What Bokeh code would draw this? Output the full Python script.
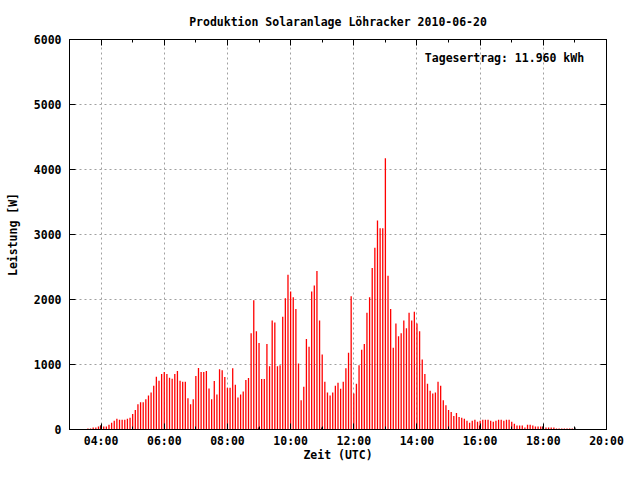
from bokeh.plotting import figure
from bokeh.models import FixedTicker, LinearAxis, Label, ColumnDataSource, Range1d
from bokeh.embed import file_html
from bokeh.resources import INLINE

# ---------------- data ----------------
title_text = "Produktion Solaranlage Löhracker 2010-06-20"
x_label = "Zeit (UTC)"
y_label = "Leistung [W]"
yield_text = "Tagesertrag: 11.960 kWh"

start_time = "03:35"   # first sample
step_minutes = 5       # sampling interval
power_w = [
    15, 15, 30, 30, 45,
    60, 45, 45, 75, 105, 135, 165, 150, 150, 150, 165, 180,
    240, 300, 390, 420, 420, 465, 525, 570, 675, 810, 750, 855,
    885, 855, 795, 780, 855, 900, 750, 735, 735, 480, 390, 465,
    825, 945, 885, 885, 900, 630, 465, 748, 539, 928, 913, 808,
    643, 643, 943, 688, 494, 539, 583, 763, 793, 1481, 1990, 1511,
    1332, 778, 778, 1317, 972, 1676, 1646, 972, 987, 1735, 2020, 2379,
    2124, 2035, 1855, 1017, 449, 658, 1391, 1272, 2124, 2214, 2439, 1676,
    1152, 733, 569, 524, 569, 673, 718, 628, 733, 943, 1182, 2050,
    554, 703, 987, 1227, 1317, 1795, 2035, 2484, 2798, 3217, 3097, 3097,
    4174, 2364, 1855, 1257, 1631, 1436, 1481, 1676, 1556, 1795, 1676, 1810,
    1631, 1511, 1077, 853, 703, 598, 554, 569, 733, 673, 449, 374,
    299, 269, 209, 254, 194, 180, 165, 135, 105, 135, 150, 120,
    135, 150, 150, 150, 135, 120, 135, 150, 150, 135, 150, 150,
    120, 90, 60, 60, 60, 30, 75, 75, 60, 45, 45, 45,
    45, 30, 30, 30, 30, 15, 15, 15, 15, 15, 15, 15,
]

marker_times = ["03:59", "08:59", "10:59", "15:59", "17:59", "19:00"]
marker_w = [60, 30, 30, 60, 45, 30]

x_ticks = [4, 6, 8, 10, 12, 14, 16, 18, 20]
x_tick_labels = ["04:00", "06:00", "08:00", "10:00", "12:00", "14:00", "16:00", "18:00", "20:00"]
x_minor = [3, 5, 7, 9, 11, 13, 15, 17, 19]
y_ticks = [0, 1000, 2000, 3000, 4000, 5000, 6000]
y_tick_labels = ["0", "1000", "2000", "3000", "4000", "5000", "6000"]

label_time = "14:15"
label_w = 5720


def to_hours(s):
    h, m = s.split(":")
    return int(h) + int(m) / 60.0


t0 = to_hours(start_time)
times = [t0 + i * step_minutes / 60.0 for i in range(len(power_w))]
src = ColumnDataSource(dict(x=times, y0=[0] * len(power_w), y=power_w))
msrc = ColumnDataSource(dict(x=[to_hours(t) for t in marker_times], y0=[0] * len(marker_w), y=marker_w))

FONT = "DejaVu Sans Mono"
FS = "11.5px"

p = figure(width=624, height=464, output_backend="svg", toolbar_location=None,
           x_range=Range1d(3, 20), y_range=Range1d(0, 6000),
           min_border_left=69, min_border_right=18, min_border_top=39, min_border_bottom=30)

p.title.text = title_text
p.title.text_font = FONT
p.title.text_font_size = FS
p.title.text_font_style = "bold"
p.title.text_color = "black"
p.title.align = "center"
p.title.standoff = 22

p.segment(x0="x", y0="y0", x1="x", y1="y", source=msrc, line_color="black", line_width=1.3)
p.segment(x0="x", y0="y0", x1="x", y1="y", source=src, line_color="#ff0000", line_width=1.3)

p.outline_line_color = "black"
p.outline_line_width = 1
p.outline_line_alpha = 1

xt = FixedTicker(ticks=x_ticks, minor_ticks=x_minor)
yt = FixedTicker(ticks=y_ticks, minor_ticks=[])

for ax in p.xaxis:
    ax.ticker = xt
    ax.major_label_overrides = dict(zip(x_ticks, x_tick_labels))
    ax.axis_label = x_label
for ax in p.yaxis:
    ax.ticker = yt
    ax.major_label_overrides = dict(zip(y_ticks, y_tick_labels))
    ax.axis_label = y_label

for ax in list(p.xaxis) + list(p.yaxis):
    ax.major_label_text_font = FONT
    ax.major_label_text_font_size = FS
    ax.major_label_text_font_style = "bold"
    ax.major_label_text_color = "black"
    ax.axis_label_text_font = FONT
    ax.axis_label_text_font_size = FS
    ax.axis_label_text_font_style = "bold"
    ax.axis_label_text_color = "black"
    ax.major_tick_in = 6
    ax.major_tick_out = 0
    ax.minor_tick_in = 3
    ax.minor_tick_out = 0
    ax.axis_line_color = "black"
    ax.major_tick_line_color = "black"
    ax.minor_tick_line_color = "black"

p.xaxis.major_label_standoff = 4
p.xaxis.axis_label_standoff = -3
p.yaxis.major_label_standoff = 8
p.yaxis.axis_label_standoff = 11
p.yaxis.major_label_orientation = "horizontal"

top_ax = LinearAxis(ticker=xt, major_label_overrides={t: "" for t in x_ticks},
                    major_label_text_font_size="0px", major_label_standoff=0,
                    major_tick_in=6, major_tick_out=0, minor_tick_in=3, minor_tick_out=0,
                    axis_line_color="black")
right_ax = LinearAxis(ticker=yt, major_label_overrides={t: "" for t in y_ticks},
                      major_label_text_font_size="0px", major_label_standoff=0,
                      major_tick_in=6, major_tick_out=0, minor_tick_in=0, minor_tick_out=0,
                      axis_line_color="black")
p.add_layout(top_ax, "above")
p.add_layout(right_ax, "right")

p.xgrid.ticker = xt
p.ygrid.ticker = yt
for g in (p.xgrid, p.ygrid):
    g.grid_line_color = "#a0a0a0"
    g.grid_line_dash = "2 3"
    g.grid_line_width = 1

p.add_layout(Label(x=to_hours(label_time), y=label_w, text=yield_text,
                   text_font=FONT, text_font_size=FS, text_font_style="bold",
                   text_baseline="middle", text_align="left", text_color="black"))

p.background_fill_color = "white"
p.border_fill_color = "white"

open("out.html", "w").write(file_html(p, INLINE))
